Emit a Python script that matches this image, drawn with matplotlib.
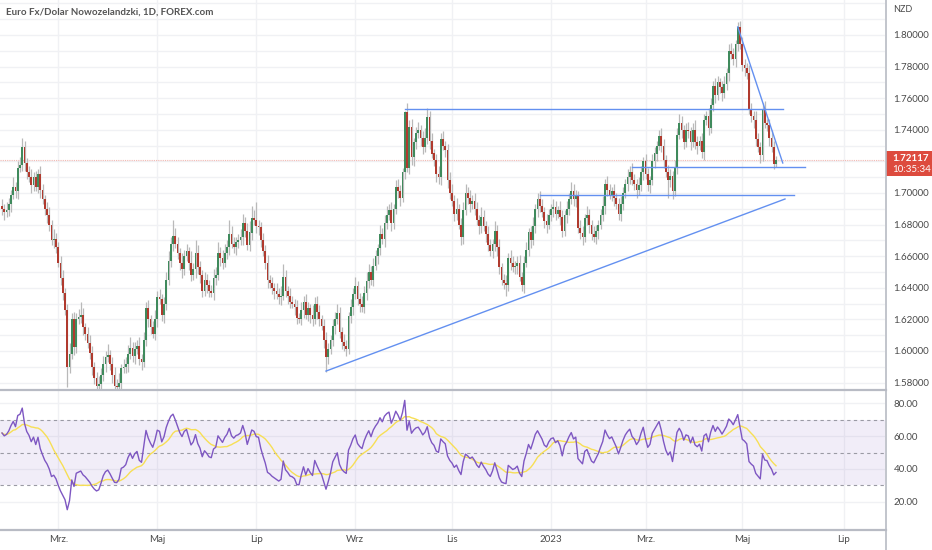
import numpy as np
import pandas as pd
import matplotlib
matplotlib.use('Agg')
from matplotlib import pyplot as plt
from matplotlib.patches import Rectangle
from matplotlib.lines import Line2D

W, H = 932, 550

title = 'Euro Fx/Dolar Nowozelandzki, 1D, FOREX.com'
currency = 'NZD'
first_day = '2022-01-25'
first_open = 1.6920

# daily closes
closes = [
    1.6900, 1.6880, 1.6895, 1.6930, 1.6990, 1.7040, 1.7010, 1.7160, 1.7180, 1.7290, 1.7190, 1.7130, 1.7100, 1.7050, 1.7100,
    1.7040, 1.7120, 1.7020, 1.6960, 1.6900, 1.6860, 1.6800, 1.6700, 1.6710, 1.6660, 1.6560, 1.6460, 1.6370, 1.6260, 1.5900,
    1.5980, 1.6200, 1.6027, 1.6200, 1.6215, 1.6230, 1.6150, 1.6110, 1.6050, 1.5990, 1.5900, 1.5830, 1.5780, 1.5790, 1.5850,
    1.5920, 1.5960, 1.5975, 1.5920, 1.5850, 1.5780, 1.5775, 1.5800, 1.5890, 1.5900, 1.5920, 1.5980, 1.6020, 1.5970, 1.6010,
    1.6030, 1.5950, 1.5930, 1.6070, 1.6270, 1.6200, 1.6150, 1.6110, 1.6200, 1.6340, 1.6330, 1.6230, 1.6300, 1.6450, 1.6570,
    1.6680, 1.6730, 1.6680, 1.6620, 1.6560, 1.6520, 1.6600, 1.6630, 1.6560, 1.6480, 1.6520, 1.6620, 1.6530, 1.6480, 1.6380,
    1.6450, 1.6420, 1.6380, 1.6370, 1.6460, 1.6480, 1.6620, 1.6590, 1.6560, 1.6620, 1.6660, 1.6740, 1.6680, 1.6660, 1.6690,
    1.6700, 1.6720, 1.6810, 1.6760, 1.6670, 1.6750, 1.6840, 1.6830, 1.6790, 1.6785, 1.6700, 1.6630, 1.6560, 1.6450, 1.6430,
    1.6400, 1.6380, 1.6360, 1.6340, 1.6350, 1.6470, 1.6380, 1.6350, 1.6310, 1.6300, 1.6280, 1.6210, 1.6205, 1.6260, 1.6310,
    1.6230, 1.6270, 1.6230, 1.6200, 1.6300, 1.6250, 1.6200, 1.6160, 1.6070, 1.5960, 1.6010, 1.6070, 1.6160, 1.6200, 1.6240,
    1.6120, 1.6060, 1.6030, 1.6010, 1.6220, 1.6280, 1.6360, 1.6410, 1.6330, 1.6300, 1.6280, 1.6370, 1.6440, 1.6500, 1.6450,
    1.6540, 1.6600, 1.6650, 1.6740, 1.6710, 1.6810, 1.6860, 1.6890, 1.6810, 1.6900, 1.7040, 1.7010, 1.6970, 1.7130, 1.7510,
    1.7160, 1.7420, 1.7230, 1.7320, 1.7380, 1.7400, 1.7350, 1.7290, 1.7350, 1.7480, 1.7330, 1.7250, 1.7210, 1.7120, 1.7100,
    1.7340, 1.7300, 1.7270, 1.7080, 1.7000, 1.6950, 1.6870, 1.6900, 1.6800, 1.6720, 1.6890, 1.7000, 1.6970, 1.6930, 1.6950,
    1.6900, 1.6830, 1.6790, 1.6850, 1.6790, 1.6740, 1.6670, 1.6630, 1.6680, 1.6760, 1.6660, 1.6530, 1.6450, 1.6430, 1.6420,
    1.6590, 1.6560, 1.6530, 1.6540, 1.6560, 1.6470, 1.6420, 1.6560, 1.6640, 1.6750, 1.6700, 1.6790, 1.6900, 1.6960, 1.6920,
    1.6880, 1.6820, 1.6800, 1.6860, 1.6900, 1.6910, 1.6870, 1.6890, 1.6850, 1.6760, 1.6860, 1.6900, 1.6960, 1.7010, 1.6960,
    1.6980, 1.6780, 1.6750, 1.6720, 1.6840, 1.6860, 1.6800, 1.6740, 1.6720, 1.6760, 1.6800, 1.6860, 1.6920, 1.7060, 1.7020,
    1.6990, 1.7010, 1.6970, 1.6930, 1.6870, 1.6930, 1.7000, 1.7060, 1.7100, 1.7130, 1.7080, 1.7060, 1.7020, 1.7050, 1.7130,
    1.7200, 1.7120, 1.7050, 1.7080, 1.7200, 1.7250, 1.7300, 1.7360, 1.7300, 1.7210, 1.7130, 1.7080, 1.7110, 1.7010, 1.7160,
    1.7370, 1.7440, 1.7400, 1.7320, 1.7400, 1.7390, 1.7320, 1.7400, 1.7320, 1.7300, 1.7330, 1.7260, 1.7460, 1.7490, 1.7410,
    1.7560, 1.7680, 1.7620, 1.7700, 1.7670, 1.7630, 1.7690, 1.7760, 1.7900, 1.7880, 1.7850, 1.7940, 1.8050, 1.7940, 1.7810,
    1.7790, 1.7760, 1.7530, 1.7490, 1.7460, 1.7340, 1.7290, 1.7240, 1.7530, 1.7440, 1.7430, 1.7350, 1.7290, 1.7185, 1.72117,
]

# wick lengths above / below the body, in 0.001 NZD
upper_wick = [
    4, 3, 5, 4, 3, 6, 3, 4, 5, 6, 4, 3, 4, 5, 3,
    4, 3, 5, 4, 3, 4, 5, 3, 6, 4, 3, 4, 5, 3, 4,
    7, 4, 5, 4, 5, 8, 4, 3, 4, 5, 4, 3, 4, 5, 4,
    5, 4, 7, 3, 4, 5, 4, 6, 3, 5, 4, 6, 7, 4, 5,
    4, 6, 3, 5, 4, 5, 3, 4, 6, 4, 5, 3, 4, 5, 6,
    4, 10, 5, 4, 3, 6, 4, 5, 3, 7, 4, 8, 5, 4, 3,
    5, 4, 3, 4, 6, 5, 7, 4, 5, 6, 4, 9, 5, 4, 3,
    4, 5, 6, 4, 5, 7, 8, 5, 11, 4, 3, 5, 4, 5, 3,
    4, 3, 5, 4, 6, 8, 4, 3, 5, 4, 3, 4, 3, 5, 4,
    5, 4, 3, 6, 4, 5, 4, 3, 4, 5, 4, 3, 4, 5, 6,
    4, 3, 5, 4, 3, 5, 4, 6, 3, 4, 5, 4, 6, 5, 4,
    5, 4, 3, 6, 4, 5, 6, 4, 5, 3, 4, 5, 4, 3, 1,
    6, 4, 5, 3, 4, 5, 3, 4, 6, 6, 4, 5, 3, 4, 5,
    4, 5, 3, 4, 5, 6, 4, 7, 3, 4, 5, 6, 4, 5, 4,
    5, 4, 3, 6, 4, 3, 5, 4, 3, 6, 4, 5, 3, 4, 5,
    3, 5, 4, 3, 4, 5, 3, 4, 5, 3, 4, 6, 3, 4, 5,
    4, 3, 5, 4, 3, 5, 4, 3, 6, 4, 3, 5, 4, 6, 5,
    4, 3, 5, 4, 3, 6, 4, 3, 5, 4, 3, 4, 6, 3, 5,
    4, 3, 5, 3, 4, 5, 4, 3, 5, 4, 6, 4, 3, 5, 4,
    3, 5, 4, 3, 5, 4, 3, 4, 5, 4, 3, 5, 4, 3, 5,
    4, 6, 5, 3, 4, 5, 3, 4, 6, 4, 3, 5, 4, 3, 5,
    4, 3, 5, 4, 3, 4, 5, 3, 4, 5, 4, 3, 3, 4, 5,
    4, 3, 5, 4, 3, 6, 4, 3, 4, 5, 3, 4, 5, 4, 2,
]
lower_wick = [
    4, 5, 3, 4, 5, 3, 4, 5, 3, 4, 5, 4, 3, 5, 4,
    3, 4, 5, 3, 4, 5, 4, 3, 5, 4, 3, 4, 5, 3, 13,
    4, 3, 5, 4, 3, 4, 5, 4, 3, 4, 5, 4, 3, 5, 3,
    4, 5, 3, 4, 5, 4, 3, 5, 4, 3, 4, 5, 3, 4, 5,
    3, 4, 5, 3, 4, 5, 4, 3, 4, 5, 3, 4, 5, 4, 3,
    4, 5, 3, 4, 5, 6, 4, 3, 5, 4, 3, 6, 4, 5, 4,
    3, 5, 4, 3, 5, 4, 3, 5, 4, 3, 4, 5, 3, 4, 5,
    4, 3, 5, 4, 3, 4, 5, 3, 4, 5, 4, 3, 4, 5, 3,
    4, 5, 3, 4, 5, 3, 4, 5, 4, 3, 5, 4, 3, 4, 5,
    3, 4, 5, 4, 3, 5, 4, 3, 5, 9, 4, 3, 4, 5, 3,
    4, 5, 3, 4, 3, 4, 5, 3, 4, 5, 3, 4, 5, 4, 3,
    4, 3, 5, 4, 3, 5, 4, 3, 5, 4, 3, 4, 5, 3, 4,
    3, 4, 5, 6, 4, 3, 5, 4, 3, 4, 5, 3, 4, 5, 4,
    5, 3, 4, 5, 4, 3, 5, 4, 3, 5, 4, 3, 4, 5, 3,
    4, 3, 5, 4, 3, 5, 4, 3, 4, 5, 6, 4, 3, 4, 7,
    4, 5, 3, 4, 5, 3, 4, 5, 3, 4, 5, 3, 4, 5, 4,
    3, 4, 5, 3, 4, 5, 4, 3, 5, 4, 3, 5, 4, 3, 4,
    5, 3, 4, 5, 3, 4, 5, 4, 3, 4, 5, 3, 4, 5, 4,
    3, 4, 5, 3, 4, 5, 4, 3, 5, 4, 3, 4, 5, 3, 4,
    5, 3, 4, 5, 3, 4, 5, 3, 4, 5, 3, 11, 4, 5, 3,
    4, 3, 5, 4, 3, 4, 5, 3, 4, 5, 3, 4, 5, 3, 4,
    3, 4, 5, 3, 4, 5, 3, 4, 5, 3, 4, 5, 4, 3, 4,
    5, 4, 3, 4, 5, 4, 3, 5, 4, 3, 4, 5, 3, 3, 2,
]

last_price = 1.72117
countdown = '10:35:34'

month_starts = ['2022-03-01', '2022-05-01', '2022-07-01', '2022-09-01', '2022-11-01',
                '2023-01-01', '2023-03-01', '2023-05-01', '2023-07-01']
month_labels = ['Mrz.', 'Maj', 'Lip', 'Wrz', 'Lis', '2023', 'Mrz.', 'Maj', 'Lip']

price_ticks = [1.58, 1.60, 1.62, 1.64, 1.66, 1.68, 1.70, 1.72, 1.74, 1.76, 1.78, 1.80]
rsi_ticks = [20, 40, 60, 80]
rsi_levels = [30, 50, 70]
rsi_len = 14
# Wilder averages carried in from the bars before the visible window
rsi_seed_gain = 0.0035
rsi_seed_loss = 0.0020

# hand drawn lines: (bar index, price) pairs
drawings = [
    ((179, 1.7530), (347, 1.7530)),
    ((239, 1.6990), (352, 1.6990)),
    ((280, 1.7165), (357, 1.7165)),
    ((144, 1.5873), (348, 1.6962)),
    ((327, 1.8051), (347, 1.7190)),
]

# ---------------------------------------------------------

GREEN = '#3f8a5c'
RED = '#b03a2e'
WICK = '#b9b9b9'
GRID = '#f0f1f4'
TXT = '#4a4a4a'
LINE = '#6390f0'
FONT = 'Lato'

c = np.array(closes)
o = np.r_[first_open, c[:-1]]
hi = np.maximum(o, c) + np.array(upper_wick) * 0.001
lo = np.minimum(o, c) - np.array(lower_wick) * 0.001
idx = np.arange(len(c))

dates = pd.bdate_range(first_day, periods=len(c) + 40)
tick_pos = [int(np.searchsorted(dates, pd.Timestamp(d))) for d in month_starts]

# RSI with Wilder smoothing, plus its 14 bar SMA
diff = np.diff(c, prepend=first_open)
g, l = rsi_seed_gain, rsi_seed_loss
rsi = []
for dv in diff:
    g = (g * (rsi_len - 1) + max(dv, 0)) / rsi_len
    l = (l * (rsi_len - 1) + max(-dv, 0)) / rsi_len
    rsi.append(100 - 100 / (1 + g / l))
rsi = pd.Series(rsi)
rsi_ma = rsi.rolling(rsi_len, min_periods=1).mean()

fig = plt.figure(figsize=(W / 100, H / 100), dpi=100)
ax = fig.add_axes([0, 1 - 389 / H, 885 / W, 389 / H])
ax_r = fig.add_axes([0, 1 - 529 / H, 885 / W, 139 / H])

x0, x1 = (0 - 2) / 2.25, (885 - 2) / 2.25
for a in (ax, ax_r):
    a.set_xlim(x0, x1)
    for sp in a.spines.values():
        sp.set_visible(False)
    a.set_xticks(tick_pos)
    for t in tick_pos:
        a.axvline(t, color=GRID, lw=1, zorder=0)

# price pane
ax.set_ylim(1.80 - 354 / 1580, 1.80 + 35 / 1580)
for p in np.arange(1.57, 1.83, 0.01):
    ax.axhline(p, color=GRID, lw=1, zorder=0)
ax.vlines(idx, lo, hi, color=WICK, lw=0.9, zorder=2)
ax.bar(idx, np.maximum(np.abs(c - o), 0.0003), bottom=np.minimum(o, c), width=0.7,
       color=np.where(c >= o, GREEN, RED), lw=0, zorder=3)
ax.axhline(last_price, color='#f2b8b2', lw=0.8, ls=(0, (1, 1)), zorder=1)
for (xa, ya), (xb, yb) in drawings:
    ax.plot([xa, xb], [ya, yb], color=LINE, lw=1, zorder=4)

ax.yaxis.tick_right()
ax.set_yticks(price_ticks)
ax.set_yticklabels(['' if abs(p - 1.72) < 1e-9 else f'{p:.5f}' for p in price_ticks])
ax.tick_params(axis='y', length=0, pad=6, labelsize=7, labelcolor=TXT)
ax.tick_params(axis='x', length=0, labelbottom=False)
for lab in ax.get_yticklabels():
    lab.set_fontfamily(FONT)

# rsi pane
ax_r.set_ylim(3.4, 88.1)
for v in rsi_ticks:
    ax_r.axhline(v, color=GRID, lw=1, zorder=0)
ax_r.axhspan(rsi_levels[0], rsi_levels[-1], color='#7e57c2', alpha=0.1, lw=0, zorder=1)
for v in rsi_levels:
    ax_r.axhline(v, color='#9a9aa4', lw=0.8, ls=(0, (3, 3)), zorder=2)
ax_r.plot(idx, rsi_ma, color='#f7df55', lw=1, zorder=3)
ax_r.plot(idx, rsi, color='#7e57c2', lw=1, zorder=4)

ax_r.yaxis.tick_right()
ax_r.set_yticks(rsi_ticks)
ax_r.set_yticklabels([f'{v:.2f}' for v in rsi_ticks])
ax_r.tick_params(axis='y', length=0, pad=6, labelsize=7, labelcolor=TXT)
ax_r.set_xticklabels(month_labels)
ax_r.tick_params(axis='x', length=0, pad=4, labelsize=7, labelcolor=TXT)
for lab in ax_r.get_yticklabels() + ax_r.get_xticklabels():
    lab.set_fontfamily(FONT)

# pane separators
sep = '#b8bbc4'
fig.add_artist(Line2D([885.5 / W] * 2, [0, 1], color=sep, lw=1.2))
fig.add_artist(Line2D([0, 885.5 / W], [1 - 389.5 / H] * 2, color=sep, lw=1.6))
fig.add_artist(Line2D([0, 885.5 / W], [1 - 529.5 / H] * 2, color=sep, lw=1.6))

# last price badge
ly = ax.transData.transform((0, last_price))[1]
fig.add_artist(Rectangle((886 / W, (ly - 16) / H), 46 / W, 25 / H, color='#dd4b3e', lw=0))
fig.text(892 / W, (ly + 1) / H, f'{last_price:.5f}', color='white', fontsize=7,
         family=FONT, fontweight='bold', va='center')
fig.text(892 / W, (ly - 10) / H, countdown, color='white', fontsize=7,
         family=FONT, va='center')

fig.text(893 / W, 1 - 10 / H, currency, color=TXT, fontsize=6.5, family=FONT, va='center')
fig.text(6 / W, 1 - 12 / H, title, color='#555555', fontsize=7, family=FONT,
         fontweight='bold', va='center')

fig.savefig('out.png', dpi=100)
